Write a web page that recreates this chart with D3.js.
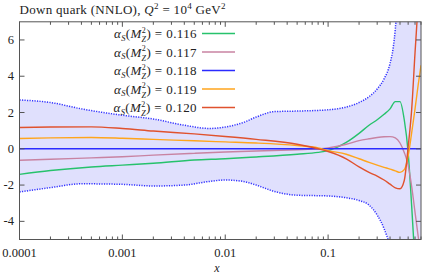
<!DOCTYPE html>
<html>
<head>
<meta charset="utf-8">
<script src="https://cdn.jsdelivr.net/npm/d3@7"></script>
<style>
  body { margin: 0; background: #fff; }
  text { font-family: "Liberation Serif", "DejaVu Serif", serif; fill: #222; }
</style>
</head>
<body>
<div id="chart"></div>
<script>

// x grid for the alpha_s curves
const xGrid = [1e-4, 2e-4, 5e-4, 1e-3, 2e-3, 5e-3, 0.01, 0.02, 0.05, 0.08, 0.1, 0.15, 0.2, 0.25, 0.3, 0.35, 0.4, 0.45, 0.5, 0.55, 0.6, 0.65, 0.7, 0.75, 0.8];

const as116 = [-1.41, -1.2, -1.0, -0.9, -0.8, -0.62, -0.55, -0.45, -0.3, -0.2, -0.1, 0.35, 0.85, 1.3, 1.6, 1.9, 2.2, 2.6, 2.6, 1.6, -0.2, -3.2, -6.3, -9.5, -12];
const as117 = [-0.63, -0.58, -0.5, -0.44, -0.35, -0.25, -0.18, -0.12, -0.05, 0.0, 0.05, 0.25, 0.45, 0.55, 0.62, 0.66, 0.67, 0.6, 0.32, -0.2, -0.9, -2.1, -3.5, -4.8, -6];
const as118 = [0, 0, 0, 0, 0, 0, 0, 0, 0, 0, 0, 0, 0, 0, 0, 0, 0, 0, 0, 0, 0, 0, 0, 0, 0];
const as119 = [0.57, 0.6, 0.62, 0.58, 0.52, 0.44, 0.38, 0.32, 0.18, 0.05, -0.1, -0.3, -0.55, -0.75, -0.9, -1.02, -1.12, -1.22, -1.3, -1.15, -0.4, 0.9, 2.2, 3.5, 4.6];
const as120 = [1.17, 1.2, 1.21, 1.12, 0.98, 0.82, 0.68, 0.52, 0.25, 0.0, -0.15, -0.55, -1.0, -1.3, -1.5, -1.72, -1.95, -2.15, -2.2, -1.75, 0.1, 2.2, 5.3, 8, 11];

// PDF uncertainty band
const bandX = [1e-4, 2e-4, 4e-4, 1e-3, 2e-3, 4e-3, 7e-3, 0.01, 0.015, 0.02, 0.03, 0.05, 0.1, 0.15, 0.2, 0.25, 0.3, 0.35, 0.4, 0.43, 0.45, 0.47, 0.5, 0.6, 0.8];
const bandHi = [2.69, 2.55, 2.2, 1.85, 1.64, 1.3, 1.12, 1.2, 1.45, 1.75, 2.05, 2.08, 2.15, 2.3, 2.55, 2.87, 3.3, 3.85, 4.7, 5.6, 6.6, 8, 11, 18, 30];
const bandLo = [-2.38, -2.14, -1.93, -1.96, -2.05, -2.0, -1.8, -1.72, -1.8, -2.0, -2.35, -2.56, -2.6, -2.7, -2.85, -3.1, -3.65, -4.4, -5.4, -6.2, -7, -8, -10, -17, -30];

const seriesNames = ["0.116", "0.117", "0.118", "0.119", "0.120"];
const seriesColors = ["#27c26c", "#c883a2", "#2b2bff", "#ffa51c", "#e0522e"];
const yTicks = [-4, -2, 0, 2, 4, 6];
const xTickLabels = ["0.0001", "0.001", "0.01", "0.1"];

const width = 423, height = 273;
const plotL = 19.5, plotR = 421, plotT = 21.8, plotB = 239.5;

const svg = d3.select("#chart").append("svg")
    .attr("width", width)
    .attr("height", height);

const x = d3.scaleLog().domain([1e-4, 0.8]).range([plotL, plotR]);
const y = d3.scaleLinear().domain([-5, 7]).range([plotB, plotT]);

svg.append("clipPath").attr("id", "clip")
  .append("rect")
    .attr("x", plotL).attr("y", plotT)
    .attr("width", plotR - plotL).attr("height", plotB - plotT);

const plot = svg.append("g").attr("clip-path", "url(#clip)");

// band
const area = d3.area()
    .x((d, i) => x(bandX[i]))
    .y0((d, i) => y(bandLo[i]))
    .y1((d, i) => y(bandHi[i]))
    .curve(d3.curveMonotoneX);

plot.append("path")
    .datum(bandX)
    .attr("d", area)
    .style("fill", "#e0e0fd")
    .style("stroke", "none");

[bandHi, bandLo].forEach(arr => {
  const ln = d3.line()
      .x((d, i) => x(bandX[i]))
      .y(d => y(d))
      .curve(d3.curveMonotoneX);
  plot.append("path")
      .datum(arr)
      .attr("d", ln)
      .style("fill", "none")
      .style("stroke", "#3333ff")
      .style("stroke-width", 1.5)
      .style("stroke-dasharray", "1.2,1.3");
});

// curves
const allSeries = [as116, as117, as118, as119, as120];
const line = d3.line()
    .x((d, i) => x(xGrid[i]))
    .y(d => y(d))
    .curve(d3.curveMonotoneX);

allSeries.forEach((s, k) => {
  plot.append("path")
      .datum(s)
      .attr("d", line)
      .style("fill", "none")
      .style("stroke", seriesColors[k])
      .style("stroke-width", 1.4);
});

// frame
svg.append("rect")
    .attr("x", plotL).attr("y", plotT)
    .attr("width", plotR - plotL).attr("height", plotB - plotT)
    .style("fill", "none")
    .style("stroke", "#555")
    .style("stroke-width", 1);

// x ticks (inward, top and bottom)
const majors = [1e-4, 1e-3, 1e-2, 1e-1];
let minors = [];
for (let e = -4; e <= -1; e++) {
  for (let m = 2; m <= 9; m++) {
    const v = m * Math.pow(10, e);
    if (v <= 0.8) minors.push(v);
  }
}
const tickG = svg.append("g").style("stroke", "#555").style("stroke-width", 1);
majors.concat(minors).forEach(v => {
  const len = majors.includes(v) ? 5 : 3;
  tickG.append("line").attr("x1", x(v)).attr("x2", x(v)).attr("y1", plotB).attr("y2", plotB - len);
  tickG.append("line").attr("x1", x(v)).attr("x2", x(v)).attr("y1", plotT).attr("y2", plotT + len);
});
yTicks.forEach(v => {
  tickG.append("line").attr("x1", plotL).attr("x2", plotL + 5).attr("y1", y(v)).attr("y2", y(v));
  tickG.append("line").attr("x1", plotR).attr("x2", plotR - 5).attr("y1", y(v)).attr("y2", y(v));
});

svg.selectAll(".xl")
  .data(majors)
  .enter().append("text")
    .attr("x", d => x(d))
    .attr("y", 257)
    .attr("text-anchor", "middle")
    .style("font-size", "12.5px")
    .text((d, i) => xTickLabels[i]);

svg.selectAll(".yl")
  .data(yTicks)
  .enter().append("text")
    .attr("x", 14)
    .attr("y", d => y(d) + 4)
    .attr("text-anchor", "end")
    .style("font-size", "12.5px")
    .text(d => d);

svg.append("text")
    .attr("x", 217).attr("y", 271.5)
    .attr("text-anchor", "middle")
    .style("font-size", "12px")
    .style("font-style", "italic")
    .text("x");

// title
const title = svg.append("text")
    .attr("x", 19.5).attr("y", 13.5)
    .style("font-size", "13px")
    .style("letter-spacing", "0.3px");
title.append("tspan").text("Down quark (NNLO), ");
title.append("tspan").style("font-style", "italic").text("Q");
title.append("tspan").attr("dy", -4.5).style("font-size", "9px").text("2");
title.append("tspan").attr("dy", 4.5).text(" = 10");
title.append("tspan").attr("dy", -4.5).style("font-size", "9px").text("4");
title.append("tspan").attr("dy", 4.5).text(" GeV");
title.append("tspan").attr("dy", -4.5).style("font-size", "9px").text("2");

// legend
const legend = svg.append("g");
seriesNames.forEach((name, k) => {
  const ly = 33.5 + k * 18.5;
  const t = legend.append("text")
      .attr("x", 197).attr("y", ly + 4.5)
      .attr("text-anchor", "end")
      .style("font-size", "13px")
      .style("letter-spacing", "0.4px");
  t.append("tspan").style("font-style", "italic").text("α");
  t.append("tspan").attr("dy", 2.5).style("font-size", "8.5px").style("font-style", "italic").text("S");
  t.append("tspan").attr("dy", -2.5).text("(");
  t.append("tspan").style("font-style", "italic").text("M");
  t.append("tspan").attr("dy", -5.5).style("font-size", "8px").text("2");
  t.append("tspan").attr("dx", -4.6).attr("dy", 9.5).style("font-size", "8px").style("font-style", "italic").text("Z");
  t.append("tspan").attr("dy", -4).text(") = " + name);
  legend.append("line")
      .attr("x1", 202).attr("x2", 235)
      .attr("y1", ly).attr("y2", ly)
      .style("stroke", seriesColors[k])
      .style("stroke-width", 1.4);
});

</script>
</body>
</html>
